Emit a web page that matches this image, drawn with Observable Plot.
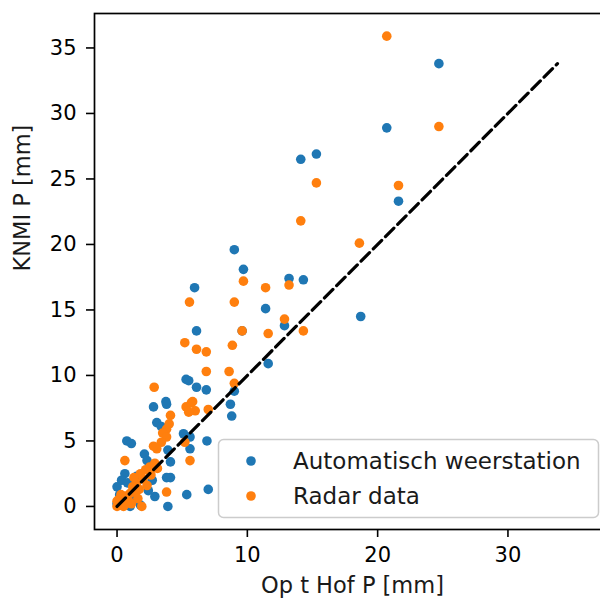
<!DOCTYPE html>
<html><head><meta charset="utf-8">
<script src="https://cdn.jsdelivr.net/npm/d3@7"></script>
<script src="https://cdn.jsdelivr.net/npm/@observablehq/plot@0.6"></script>
<style>
html,body{margin:0;padding:0;background:#fff;overflow:hidden}
#wrap{position:relative;width:600px;height:603px;overflow:hidden;background:#fff}
#wrap svg{max-width:none !important;display:block}
#legend{position:absolute;left:0;top:0;pointer-events:none}
</style></head><body><div id="wrap"></div>
<script>
const seriesNames = ["Automatisch weerstation", "Radar data"];
const seriesColors = ["#1f77b4", "#ff7f0e"];
const weerstationX = [24.7,20.7,14.1,15.3,21.6,9.0,9.7,5.95,13.2,14.3,11.4,18.7,12.85,6.1,9.6,11.6,5.3,5.5,6.1,6.85,9.0,3.75,8.7,8.8,2.8,3.8,3.05,3.4,5.1,5.6,6.9,5.6,0.75,1.1,2.1,3.9,4.1,2.3,0.6,0.35,2.7,4.1,3.8,2.9,5.35,7.0,3.9,0.0,0.5,1.0,1.8,0.2,1.3,0.0,1.5,0.8,2.4,1.2];
const weerstationY = [33.8,28.9,26.5,26.9,23.3,19.6,18.1,16.7,17.4,17.3,15.1,14.5,13.8,13.4,13.4,10.9,9.7,9.6,9.1,8.9,8.8,8.0,7.8,6.9,7.6,7.8,6.4,6.1,5.55,5.3,5.0,4.4,5.0,4.8,4.0,4.3,3.4,3.5,2.5,2.0,2.0,2.2,2.2,0.76,0.9,1.3,0.0,1.5,0.45,0.0,0.1,0.9,1.2,0.2,2.3,1.8,1.2,0.5];
const radarX = [20.7,24.7,21.6,15.3,14.1,18.6,9.7,11.4,13.2,5.56,9.0,12.85,9.6,11.6,14.3,5.2,6.1,6.85,8.85,6.85,8.6,2.85,9.0,5.3,5.7,6.0,5.5,5.8,7.0,4.1,3.8,3.5,4.0,3.8,3.4,3.05,2.8,5.2,5.6,0.6,3.8,1.9,2.5,2.2,1.8,2.0,1.5,1.2,1.0,0.7,0.4,0.0,0.2,0.1,0.5,1.4,1.7,2.3,0.9,1.3,2.6,0.3,1.6,0.0,1.1,2.9,3.1];
const radarY = [35.9,29.0,24.5,24.7,21.8,20.1,17.2,16.7,16.9,15.6,15.6,14.3,13.4,13.2,13.4,12.5,12.0,11.8,12.3,10.3,10.3,9.1,9.4,7.6,7.9,7.3,7.2,8.0,7.4,6.95,5.9,5.6,6.3,5.3,4.9,4.4,4.6,4.9,3.5,3.5,1.1,0.0,3.0,2.8,2.5,2.1,1.8,1.5,1.0,0.8,0.3,0.0,0.1,0.5,0.0,1.1,1.3,1.6,0.4,2.2,2.4,0.9,0.6,0.4,0.2,3.3,2.9];
const xTicks = [0, 10, 20, 30];
const yTicks = [0, 5, 10, 15, 20, 25, 30, 35];
const xLabel = "Op t Hof P [mm]";
const yLabel = "KNMI P [mm]";
const xDomain = [-1.73, 37.87];
const yDomain = [-1.76, 37.63];

const weerstation = weerstationX.map((x, i) => ({x, y: weerstationY[i]}));
const radar = radarX.map((x, i) => ({x, y: radarY[i]}));
const diag = [0, d3.max(weerstationY)];

const chart = Plot.plot({
  width: 612, height: 603,
  marginLeft: 94, marginRight: 2, marginTop: 13, marginBottom: 74,
  style: {fontFamily: "DejaVu Sans", background: "white", color: "black", maxWidth: "none"},
  x: {domain: xDomain},
  y: {domain: yDomain},
  marks: [
    Plot.dot(weerstation, {x: "x", y: "y", r: 4.8, fill: seriesColors[0], stroke: "none"}),
    Plot.dot(radar, {x: "x", y: "y", r: 4.8, fill: seriesColors[1], stroke: "none"}),
    Plot.line(diag, {x: d => d, y: d => d, stroke: "black", strokeWidth: 3.2, strokeDasharray: "12,5.3"}),
    Plot.frame({stroke: "black", strokeWidth: 1.7}),
    Plot.axisX({ticks: xTicks, tickSize: 8, tickPadding: 10, fontSize: 21, strokeWidth: 1.6, label: null, tickFormat: d => String(d)}),
    Plot.axisY({ticks: yTicks, tickSize: 8, tickPadding: 10, fontSize: 21, strokeWidth: 1.6, label: null, tickFormat: d => String(d)}),
    Plot.text([xLabel], {text: d => d, frameAnchor: "bottom", dy: 56, fontSize: 22.5, lineAnchor: "middle", fill: "#1a1a1a"}),
    Plot.text([yLabel], {text: d => d, frameAnchor: "left", dx: -72, rotate: -90, fontSize: 22.5, lineAnchor: "middle", fill: "#1a1a1a"})
  ]
});
const wrap = document.getElementById("wrap");
wrap.appendChild(chart);

// legend overlay
const leg = d3.create("svg").attr("id", "legend").attr("width", 600).attr("height", 603);
leg.append("rect").attr("x", 218.5).attr("y", 439.5).attr("width", 380).attr("height", 78)
  .attr("rx", 5).attr("fill", "white").attr("fill-opacity", 0.8)
  .attr("stroke", "#cccccc").attr("stroke-width", 1.5);
seriesNames.forEach((name, i) => {
  const cy = 461 + i * 35;
  leg.append("circle").attr("cx", 251).attr("cy", cy).attr("r", 4.8).attr("fill", seriesColors[i]);
  leg.append("text").attr("x", 293).attr("y", cy + 8).attr("font-family", "DejaVu Sans")
    .attr("font-size", 23).attr("fill", "#1a1a1a").text(name);
});
wrap.appendChild(leg.node());
</script></body></html>
